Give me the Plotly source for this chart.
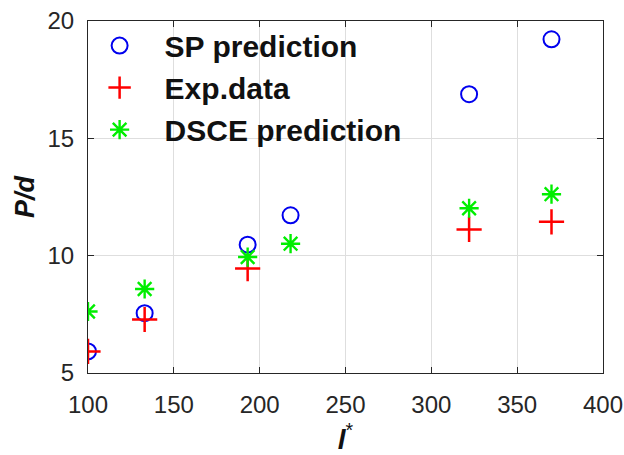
import plotly.graph_objects as go

# Normalised length and measured/predicted P/d values
l_star = [100, 133, 193, 218, 322, 370]
sp_pred = [5.92, 7.55, 10.47, 11.72, 16.88, 19.22]
exp_x = [100, 133, 193, 322, 370]
exp_data = [5.92, 7.28, 9.45, 11.12, 11.44]
dsce_pred = [7.62, 8.58, 9.94, 10.51, 12.02, 12.62]

x_ticks = [100, 150, 200, 250, 300, 350, 400]
y_ticks = [5, 10, 15, 20]

AX = "#262626"
GRID = "#dedede"
FONT = "Liberation Sans, Arial, sans-serif"

fig = go.Figure()
fig.add_trace(go.Scatter(
    x=l_star, y=sp_pred, mode="markers", name="<b>SP prediction</b>",
    marker=dict(symbol="circle-open", size=16, color="#0000ee",
                line=dict(width=2, color="#0000ee")),
))
fig.add_trace(go.Scatter(
    x=exp_x, y=exp_data, mode="markers", name="<b>Exp.data</b>",
    marker=dict(symbol="cross-thin-open", size=18, color="#ff0000",
                line=dict(width=2.5, color="#ff0000")),
))
fig.add_trace(go.Scatter(
    x=l_star, y=dsce_pred, mode="markers", name="<b>DSCE prediction</b>",
    marker=dict(symbol="asterisk-open", size=16, color="#00ee00",
                line=dict(width=2.4, color="#00ee00")),
))

fig.update_layout(
    width=624, height=455,
    margin=dict(l=88, r=21, t=21, b=82),
    paper_bgcolor="white", plot_bgcolor="white",
    font=dict(family=FONT, color=AX),
    showlegend=True,
    legend=dict(
        x=-0.026, y=1.004, xanchor="left", yanchor="top",
        bgcolor="rgba(0,0,0,0)", borderwidth=0,
        font=dict(family=FONT, size=30, color="#111111"),
        itemwidth=80, tracegroupgap=0,
    ),
)
fig.update_xaxes(
    range=[100, 400], tickvals=x_ticks, ticktext=[str(v) for v in x_ticks],
    showgrid=True, gridcolor=GRID, gridwidth=1,
    showline=True, linecolor=AX, linewidth=1.2, mirror="ticks",
    ticks="inside", ticklen=6, tickcolor=AX,
    tickfont=dict(size=24, color=AX), ticklabelstandoff=10,
    zeroline=False, automargin=False,
    title=dict(text="<b><i>l</i></b><sup>*</sup>", font=dict(size=28, color="#111111"), standoff=14),
)
fig.update_yaxes(
    range=[5, 20], tickvals=y_ticks, ticktext=[str(v) for v in y_ticks],
    showgrid=True, gridcolor=GRID, gridwidth=1,
    showline=True, linecolor=AX, linewidth=1.2, mirror="ticks",
    ticks="inside", ticklen=6, tickcolor=AX,
    tickfont=dict(size=24, color=AX), ticklabelstandoff=8,
    zeroline=False, automargin=False,
    title=dict(text="<b><i>P/d</i></b>", font=dict(size=27, color="#111111"), standoff=4),
)

fig.write_html("out.html")
